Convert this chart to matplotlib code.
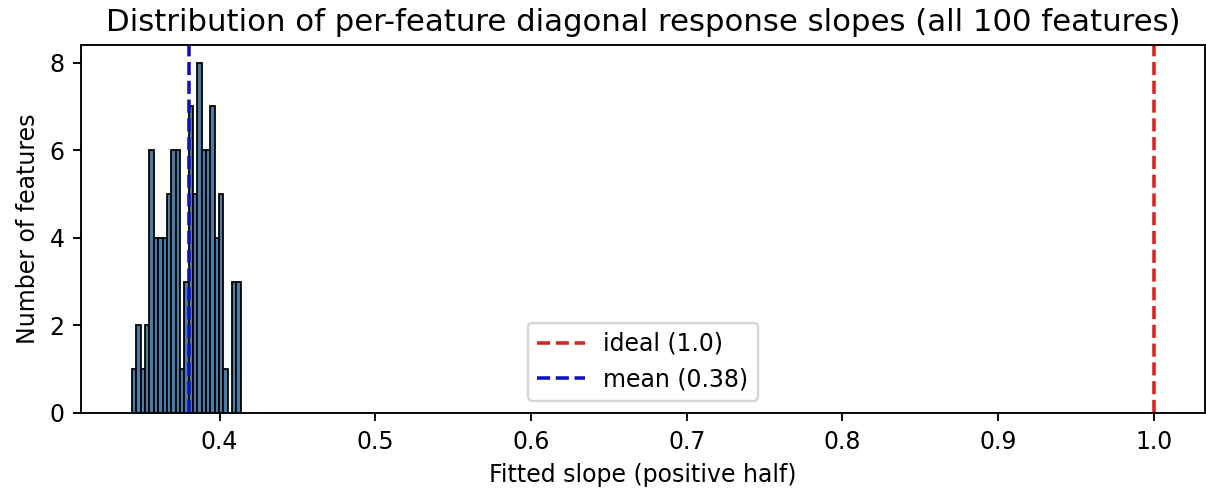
import numpy as np
import matplotlib
matplotlib.use("Agg")
import matplotlib.pyplot as plt

# Histogram: 25 bins, 100 features in total
bin_left = 0.3438
bin_width = 0.00279
counts = [1, 2, 1, 2, 6, 4, 4, 4, 5, 6, 6, 1, 3, 7, 5, 8, 6, 6, 7, 4, 5, 1, 0, 3, 3]
ideal_slope = 1.0

edges = bin_left + bin_width * np.arange(len(counts) + 1)
centers = (edges[:-1] + edges[1:]) / 2
mean_slope = np.sum(centers * np.array(counts)) / np.sum(counts)

# the reference looks like a small figure saved at a high dpi
DPI = 170
fig = plt.figure(figsize=(1206 / DPI, 490 / DPI), dpi=DPI)
ax = fig.add_axes([81 / 1206, 1 - 413 / 490, 1124 / 1206, 368 / 490])

ax.hist(centers, bins=edges, weights=counts, color="#4a7ca8", edgecolor="black", linewidth=0.75)
ax.axvline(ideal_slope, color="#dd2020", linestyle="--", linewidth=1.5, label="ideal (1.0)")
ax.axvline(mean_slope, color="#1010c0", linestyle="--", linewidth=1.5, label="mean (%.2f)" % mean_slope)

ax.set_title("Distribution of per-feature diagonal response slopes (all 100 features)", fontsize=13)
ax.set_xlabel("Fitted slope (positive half)", fontsize=10)
ax.set_ylabel("Number of features", fontsize=10)
ax.tick_params(labelsize=10)
ax.set_xticks([0.4, 0.5, 0.6, 0.7, 0.8, 0.9, 1.0])
ax.set_yticks([0, 2, 4, 6, 8])

ax.legend(loc="lower center", fontsize=10)

fig.savefig("out.png", dpi=DPI)
